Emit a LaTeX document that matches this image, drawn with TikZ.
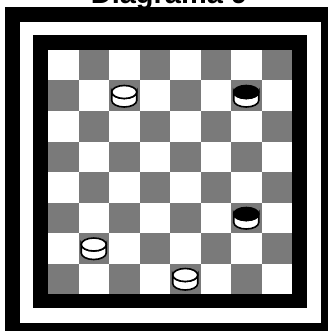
\documentclass[tikz,border=0pt]{standalone}
\usepackage{fontspec}
\newfontfamily\titlefont{Liberation Sans}

\tikzset{
  darksq/.style={fill=black!52},
  piecerim/.style={draw=black,line width=1.6pt,fill=white},
  piecetop/.style={draw=black,line width=1.6pt,fill=#1}
}

\begin{document}
\begin{tikzpicture}[x=1pt,y=-1pt]
  \useasboundingbox (0,0) rectangle (328,331);
  \clip (0,0) rectangle (328,331);
  % frames
  \fill[black] (5,7) rectangle (340,345);
  \fill[white] (20,22) rectangle (321,323);
  \fill[black] (33,35) rectangle (307,308);
  \fill[white] (48,50) rectangle (292,294);
  % dark squares
  \foreach \i in {0,...,7}
    \foreach \j in {0,...,7}{
      \pgfmathtruncatemacro\k{mod(\i+\j,2)}
      \ifnum\k=1
        \fill[darksq] ({48+30.5*\i},{50+30.5*\j}) rectangle ++(30.5,30.5);
      \fi
    }
  % pieces
  \foreach \c/\r/\col in {2/1/white,1/6/white,4/7/white,6/1/black,6/5/black}{
    \begin{scope}[shift={({48+30.5*\c+15.25},{50+30.5*\r+15.5})}]
      \draw[piecerim] (-12.5,-4) -- (-12.5,4.5)
        arc[start angle=180,end angle=0,x radius=12.5,y radius=6.5]
        -- (12.5,-4)
        arc[start angle=0,end angle=180,x radius=12.5,y radius=6.5] -- cycle;
      \draw[piecetop=\col] (0,-4) ellipse[x radius=12.5,y radius=6.5];
    \end{scope}
  }
  % title
  \node[anchor=base,font=\titlefont\bfseries\fontsize{29}{32}\selectfont,inner sep=0pt] (title) at (169,4) {Diagrama 9};
\end{tikzpicture}
\end{document}
